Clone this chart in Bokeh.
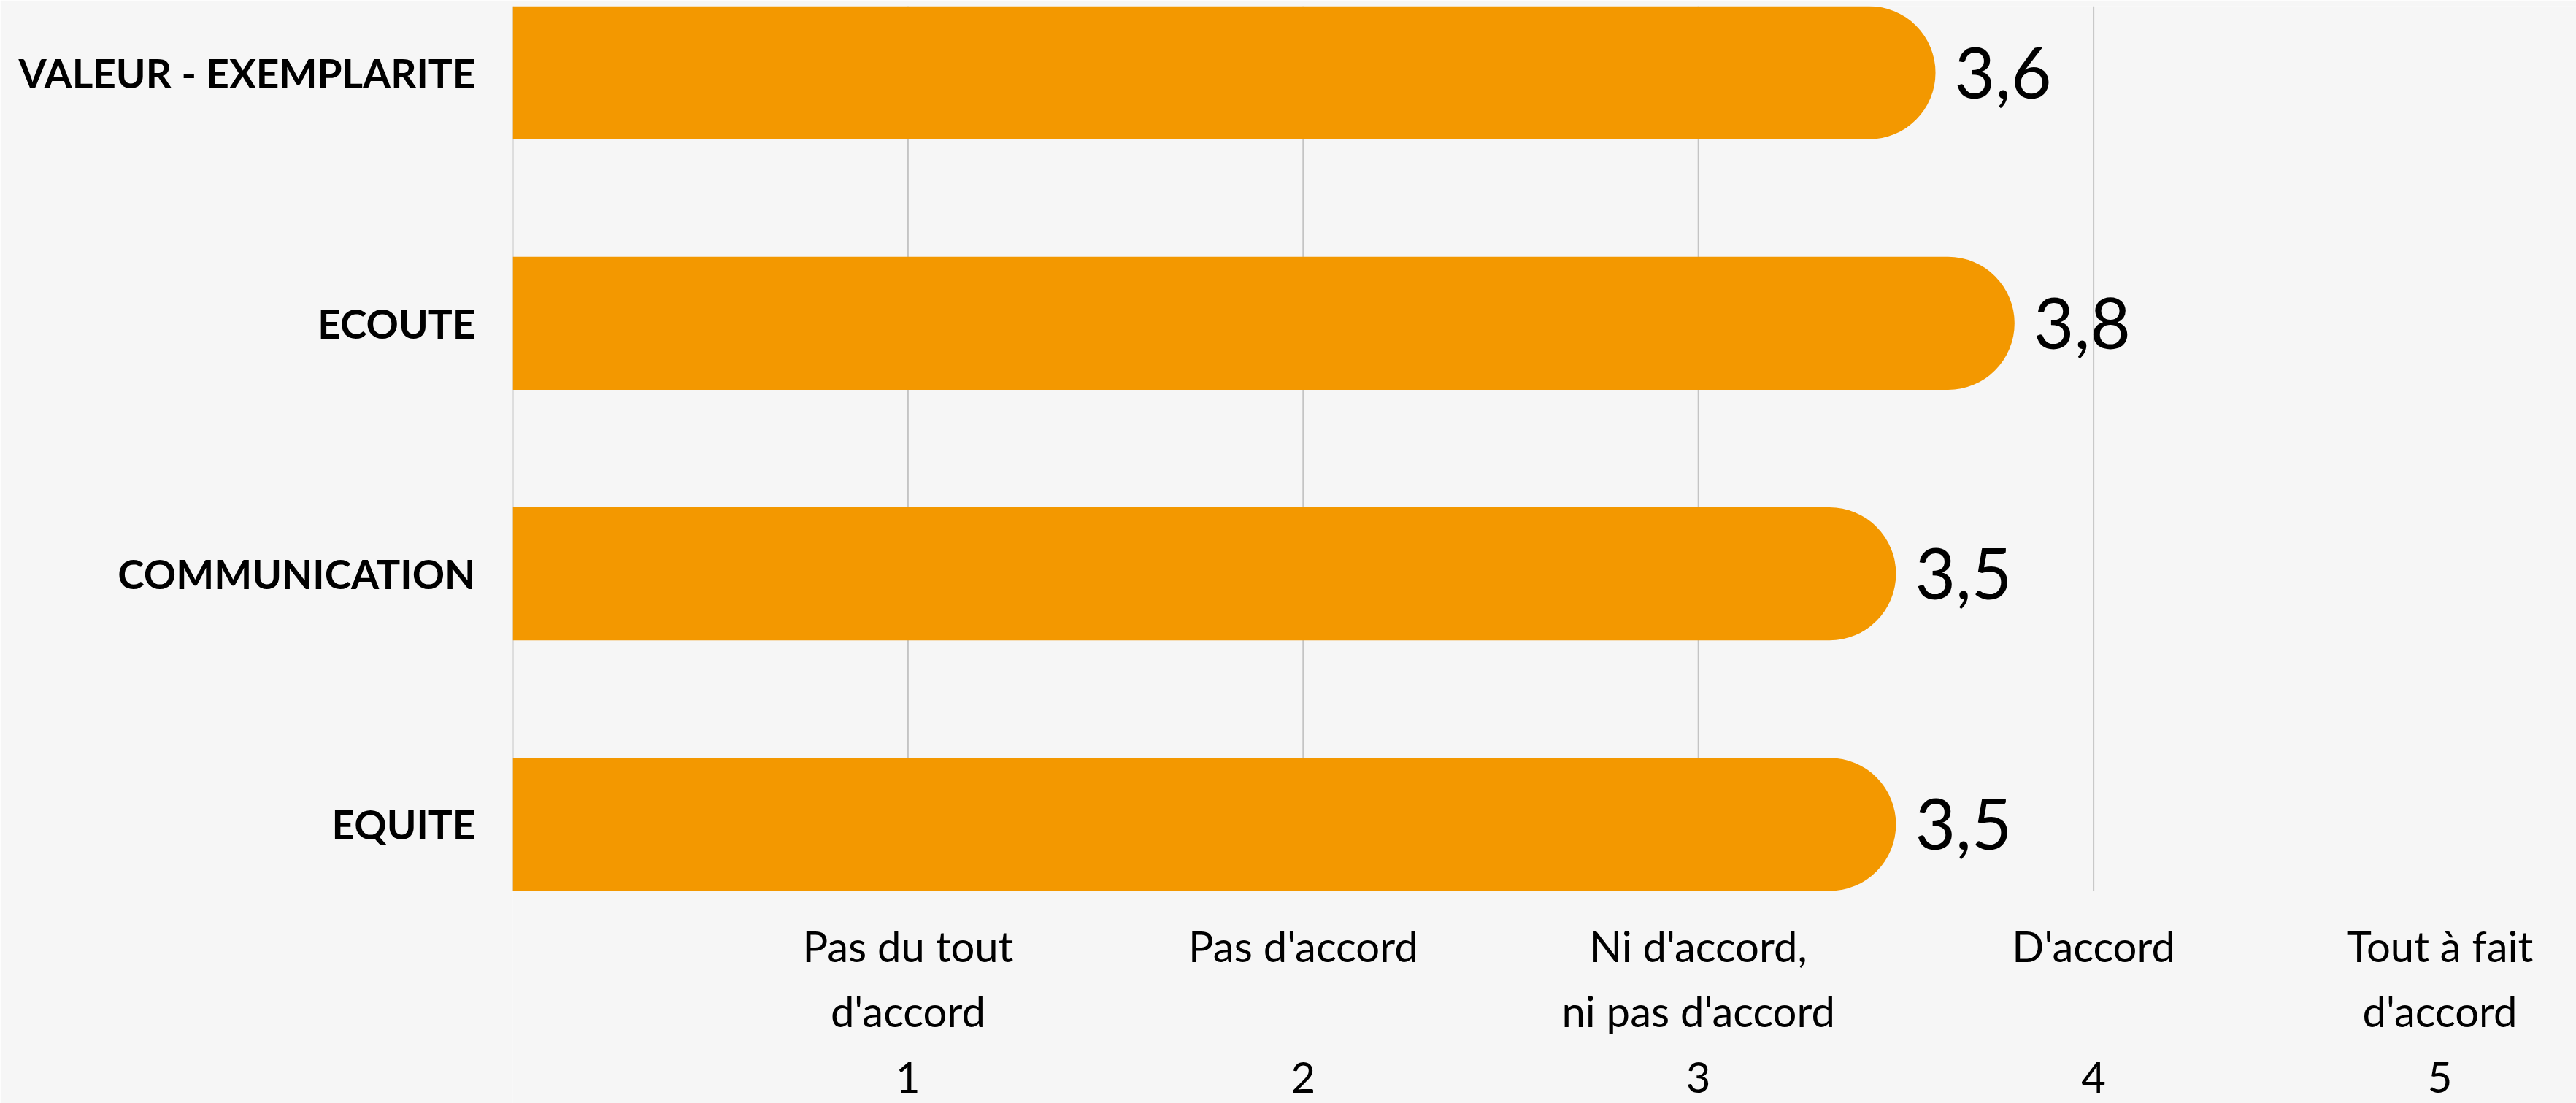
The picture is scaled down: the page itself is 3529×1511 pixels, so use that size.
from bokeh.plotting import figure
from bokeh.models import Range1d, FixedTicker
from bokeh.core.properties import value
from bokeh.embed import file_html
from bokeh.resources import INLINE

# ---- data ----
categories = ["VALEUR - EXEMPLARITE", "ECOUTE", "COMMUNICATION", "EQUITE"]
scores = [3.6, 3.8, 3.5, 3.5]
tick_values = [1, 2, 3, 4, 5]
tick_labels = ["Pas du tout\nd'accord\n1", "Pas d'accord\n\n2", "Ni d'accord,\nni pas d'accord\n3",
               "D'accord\n\n4", "Tout à fait\nd'accord\n5"]

FONT = "Lato"
BG = "#F6F6F6"
BAR = "#F39800"
GRID = "#C4C4C4"

# ---- layout constants (pixels) ----
W, H = 3529, 1511
FRAME_LEFT = 702            # where value 0 sits
PX_PER_X = 541.4            # pixels per scale unit
TOP = 8                     # top of bar area
BARS_BOTTOM = 1220          # bottom of bar area
n = len(categories)
ypos = [n - 1 - i for i in range(n)]
bar_h = 0.531
y_top = n - 1 + bar_h / 2
y_bars_bottom = -bar_h / 2
px_per_y = (BARS_BOTTOM - TOP) / (y_top - y_bars_bottom)
y_min = y_bars_bottom - (H - BARS_BOTTOM) / px_per_y
x_max = (W - FRAME_LEFT) / PX_PER_X

score_txt = [f"{v:.1f}".replace(".", ",") for v in scores]

p = figure(width=W, height=H, output_backend="svg", toolbar_location=None,
           x_range=Range1d(0, x_max), y_range=Range1d(y_min, y_top),
           min_border_left=FRAME_LEFT, min_border_right=0,
           min_border_top=TOP, min_border_bottom=0)
p.background_fill_color = BG
p.border_fill_color = BG
p.outline_line_color = None
p.xaxis.visible = False
p.xgrid.grid_line_color = None
p.ygrid.grid_line_color = None

# vertical gridlines (1..4) and left axis line (0), only over the bar area
grid_x = [0] + tick_values[:-1]
p.segment(x0=grid_x, x1=grid_x, y0=y_bars_bottom, y1=y_top,
          line_color=GRID, line_width=2)

p.hbar(y=ypos, left=0, right=scores, height=bar_h, fill_color=BAR, line_color=None,
       border_radius=(0, 91, 91, 0))
p.text(x=scores, y=ypos, text=score_txt, x_offset=26, y_offset=0,
       text_font=value(FONT), text_font_size="96px", text_baseline="middle",
       text_align="left", text_color="#000000")

# y axis (category labels)
p.yaxis.ticker = FixedTicker(ticks=ypos)
p.yaxis.major_label_overrides = {y: c for y, c in zip(ypos, categories)}
p.yaxis.major_label_text_font = FONT
p.yaxis.major_label_text_font_style = "bold"
p.yaxis.major_label_text_font_size = "55px"
p.yaxis.major_label_text_color = "#000000"
p.yaxis.major_label_standoff = 45
p.yaxis.major_tick_line_color = None
p.yaxis.minor_tick_line_color = None
p.yaxis.axis_line_color = None

# x tick labels (last one shifted left to stay inside, as in the original)
label_dx = [0, 0, 0, 0, -67]
p.text(x=tick_values, y=[y_bars_bottom] * len(tick_values), text=tick_labels,
       x_offset=label_dx, y_offset=40,
       text_font=value(FONT), text_font_size="58px", text_line_height=1.3,
       text_align="center", text_baseline="top", text_color="#000000")

open("out.html", "w").write(file_html(p, INLINE))
